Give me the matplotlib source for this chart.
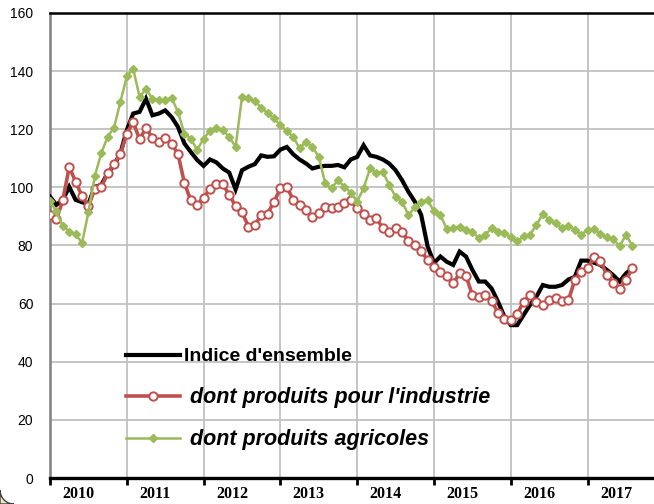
import numpy as np
import matplotlib
matplotlib.use('Agg')
import matplotlib.pyplot as plt
from matplotlib.patches import Polygon

plt.rcParams['font.family'] = ['Liberation Sans', 'DejaVu Sans']

# monthly series, Jan 2010 -> Aug 2017
start_year = 2010
years = ['2010', '2011', '2012', '2013', '2014', '2015', '2016', '2017']

ensemble = [96.8, 94, 95.7, 100.2, 95.7, 94.9, 94.3, 100.2, 100.8, 104.8, 107.7, 111.7,
            119.7, 125.4, 126, 130.5, 124.8, 125.4, 126.5, 124.2, 120.8, 115.1, 112.2, 109.4,
            107.4, 109.6, 108.6, 106.5, 105.1, 99.3, 105.9, 107.1, 108, 111, 110.5, 110.7,
            113, 113.9, 111.4, 109.6, 108.2, 106.5, 107.1, 107.4, 107.4, 107.7, 106.9, 109.6,
            110.5, 114.5, 111, 110.5, 109.6, 108.2, 105.9, 102.5, 98.5, 95.1, 90.5, 79.7,
            74, 76.2, 74.4, 73.3, 77.9, 76.2, 71.6, 67.6, 67.6, 65.2, 60.7, 55.5,
            52.6, 52.6, 56.1, 59.5, 62.4, 66.4, 65.8, 65.8, 66.4, 68.3, 69.2, 74.8,
            74.8, 74.1, 73.3, 71.6, 69.8, 67.6, 70.4, 72.1]

industrie = [90.5, 89, 95.5, 107, 102, 97, 93.5, 99.5, 100, 105, 108, 111.5,
             118.5, 122.5, 116.5, 120.5, 117, 115.5, 117, 115, 111.5, 101.5, 95.5, 94,
             96.5, 99.5, 101, 101, 97.5, 93.5, 91.5, 86.5, 87, 90.5, 91, 95,
             99.7, 100.2, 95.7, 93.9, 92.2, 89.9, 91.1, 93.4, 92.8, 93.4, 94.5, 95.5,
             92.8, 91, 88.8, 89.4, 86, 84.8, 86, 84.8, 81.5, 80, 78, 75,
             72.7, 71, 69.5, 67, 70.4, 69.5, 63, 62.4, 63, 61, 56.9, 54.6,
             54.4, 56.4, 60.7, 63, 60.7, 59.5, 61.2, 61.8, 60.9, 61.2, 68.1, 71,
             72.1, 75.9, 74.8, 69.8, 67, 64.9, 68.3, 72.1]

agricoles = [95.3, 91.7, 86.7, 84.8, 83.9, 80.8, 91.4, 103.9, 111.7, 117.4, 120.5, 129.4,
             138.2, 140.8, 131.1, 133.9, 130.5, 130.2, 129.9, 130.9, 125.9, 118.5, 116.8, 112.8,
             116.8, 119.4, 120.6, 119.7, 117.4, 113.9, 131.1, 130.7, 129.7, 127.4, 125.6, 123.7,
             121.4, 119.4, 117.4, 113.4, 115.7, 113.9, 110.5, 101.4, 99.7, 102.5, 100.2, 98.2,
             95.1, 99.7, 106.5, 105, 105.4, 100.8, 96.8, 95.1, 90.5, 93.1, 95.1, 95.7,
             91.7, 90.5, 85.6, 85.9, 86.5, 85.4, 84.8, 82.5, 83.7, 85.9, 84.8, 84.2,
             82.9, 81.4, 83.1, 83.7, 87.1, 90.9, 88.8, 87.7, 85.9, 86.7, 85.4, 83.7,
             85.4, 85.6, 84, 82.9, 82.2, 79.7, 83.7, 79.9]

t = start_year + np.arange(len(ensemble)) / 12.0

fig = plt.figure(figsize=(6.54, 5.04), dpi=100)
ax = fig.add_axes([50 / 654, 26 / 504, 620 / 654, 465 / 504])

ax.plot(t, ensemble, color='black', lw=3.0, solid_joinstyle='miter',
        label="Indice d'ensemble", zorder=3)
ax.plot(t, industrie, color='#C0504D', lw=2.6, marker='o', ms=6,
        mfc='white', mec='#C0504D', mew=1.4,
        label=" dont produits pour l'industrie", zorder=4)
ax.plot(t, agricoles, color='#9BBB59', lw=1.8, marker='D', ms=4.5,
        mfc='#9BBB59', mec='#9BBB59',
        label=" dont produits agricoles", zorder=5)

ax.set_ylim(0, 160)
ax.set_xlim(start_year, start_year + 620 / 76.8)
ax.set_yticks(np.arange(0, 161, 20))
ax.set_xticks(np.arange(start_year, start_year + 9))
ax.set_xticklabels([])
ax.set_xticks([start_year + k + 0.37 for k in range(len(years))], minor=True)
ax.set_xticklabels(years, minor=True, fontfamily='Liberation Serif',
                   fontweight='bold', fontsize=11.5)
ax.tick_params(axis='x', which='major', direction='out', length=5, width=2,
               color='black')
ax.tick_params(axis='x', which='minor', length=0, pad=6)
ax.tick_params(axis='y', length=0, pad=12, labelsize=10)

ax.grid(True, which='major', color='#C0C0C0', lw=1.3, zorder=0)
ax.set_axisbelow(True)

ax.spines['top'].set_color('black')
ax.spines['top'].set_linewidth(1.8)
ax.spines['bottom'].set_color('black')
ax.spines['bottom'].set_linewidth(2.4)
ax.spines['left'].set_color('#808080')
ax.spines['left'].set_linewidth(1.8)
ax.spines['right'].set_visible(False)

leg = ax.legend(loc='upper left', bbox_to_anchor=(0.122, 0.28), frameon=False,
                handlelength=2.8, handletextpad=0.2, labelspacing=1.1,
                borderaxespad=0, borderpad=0, prop={'size': 14, 'weight': 'bold'})
for i, txt in enumerate(leg.get_texts()):
    if i > 0:
        txt.set_fontstyle('italic')
        txt.set_fontsize(15.5)

# corner of the outer frame, bottom-left
ang = np.linspace(np.pi, 1.5 * np.pi, 20)
cx, cy, r = 14, 14, 14
pts = [(cx + r * np.cos(a), cy + r * np.sin(a)) for a in ang] + [(0, 0)]
pts = [(x / 654, y / 504) for x, y in pts]
fig.patches.append(Polygon(pts, closed=True, transform=fig.transFigure,
                           facecolor='#F3E3C0', edgecolor='#404040', lw=1.0))

fig.savefig('out.png', dpi=100)
